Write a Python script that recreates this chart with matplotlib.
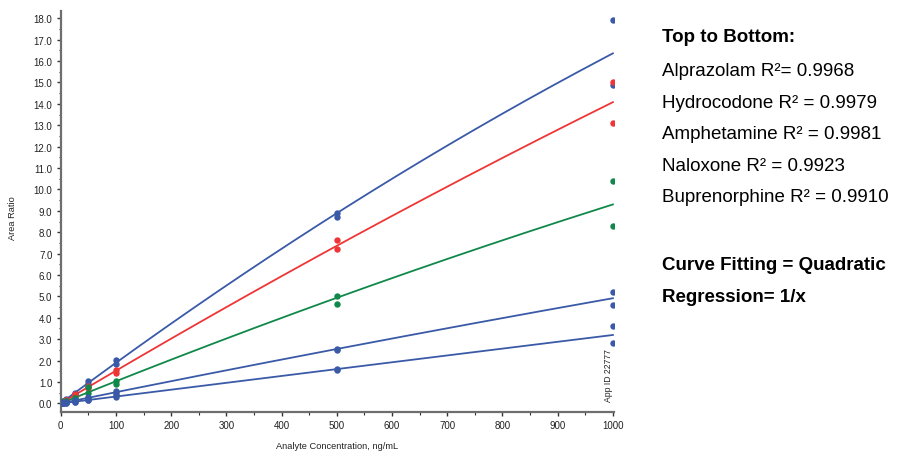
import numpy as np
import matplotlib
matplotlib.use('Agg')
import matplotlib.pyplot as plt
from matplotlib import font_manager
from matplotlib.ticker import MultipleLocator, FormatStrFormatter

# Calibration levels (ng/mL), two replicates per level
conc = [1, 1, 5, 5, 10, 10, 25, 25, 50, 50, 100, 100, 500, 500, 1000, 1000]

# Area ratios per analyte, same order as conc
alprazolam = [0.02, 0.03, 0.09, 0.11, 0.18, 0.21, 0.44, 0.50, 0.92, 1.05, 1.85, 2.02, 8.72, 8.88, 14.90, 17.90]
hydrocodone = [0.01, 0.02, 0.07, 0.08, 0.15, 0.17, 0.37, 0.42, 0.72, 0.80, 1.40, 1.58, 7.20, 7.62, 13.10, 15.02]
amphetamine = [0.01, 0.01, 0.05, 0.05, 0.09, 0.10, 0.23, 0.27, 0.50, 0.78, 0.90, 1.05, 4.66, 5.04, 8.28, 10.40]
naloxone = [0.00, 0.01, 0.025, 0.03, 0.05, 0.055, 0.12, 0.14, 0.25, 0.29, 0.48, 0.56, 2.50, 2.56, 4.62, 5.22]
buprenorphine = [0.00, 0.00, 0.015, 0.015, 0.03, 0.03, 0.07, 0.08, 0.14, 0.17, 0.30, 0.38, 1.54, 1.60, 2.82, 3.60]

series = [alprazolam, hydrocodone, amphetamine, naloxone, buprenorphine]
colors = ['#3a5aa8', '#ee3636', '#10884a', '#3a5aa8', '#3a5aa8']

legend_lines = [
    'Alprazolam R\u00b2= 0.9968',
    'Hydrocodone R\u00b2 = 0.9979',
    'Amphetamine R\u00b2 = 0.9981',
    'Naloxone R\u00b2 = 0.9923',
    'Buprenorphine R\u00b2 = 0.9910',
]

# narrow face for the axis text if the system has one
try:
    font_manager.findfont('Liberation Sans Narrow', fallback_to_default=False)
    tick_font, tick_size = 'Liberation Sans Narrow', 7.5
except ValueError:
    tick_font, tick_size = 'Liberation Sans', 7.0

fig = plt.figure(figsize=(9.01, 4.56), dpi=100)
ax = fig.add_axes([60.7 / 901, 1 - 412.7 / 456, (614 - 60.7) / 901, (412.7 - 12) / 456])

x = np.array(conc, dtype=float)
xfit = np.linspace(1, 1000, 300)
for vals, c in zip(series, colors):
    y = np.array(vals)
    # quadratic, 1/x weighted
    coef = np.polyfit(x, y, 2, w=1 / np.sqrt(x))
    ax.plot(xfit, np.polyval(coef, xfit), color=c, lw=1.3, zorder=2)
    ax.plot(x, y, 'o', color=c, ms=4.6, mec='none', zorder=3)

ax.set_xlim(0, 1002)
ax.set_ylim(-0.39, 18.34)
ax.xaxis.set_major_locator(MultipleLocator(100))
ax.xaxis.set_minor_locator(MultipleLocator(50))
ax.yaxis.set_major_locator(MultipleLocator(1))
ax.yaxis.set_minor_locator(MultipleLocator(0.5))
ax.yaxis.set_major_formatter(FormatStrFormatter('%.1f'))

for s in ['top', 'right']:
    ax.spines[s].set_visible(False)
for s in ['left', 'bottom']:
    ax.spines[s].set_color('#6e6e6e')
    ax.spines[s].set_linewidth(1.6)

ax.tick_params(which='major', direction='out', length=3, width=1, color='#333333', pad=3)
ax.tick_params(which='minor', direction='out', length=1.8, width=0.8, color='#333333')
for lab in ax.get_xticklabels() + ax.get_yticklabels():
    lab.set_family(tick_font)
    lab.set_fontsize(tick_size)
    lab.set_color('#222222')

ax.set_xlabel('Analyte Concentration, ng/mL', family=tick_font, fontsize=tick_size - 0.3,
              color='#222222', labelpad=8)
ax.set_ylabel('Area Ratio', family=tick_font, fontsize=tick_size - 0.3, color='#222222')
ax.yaxis.set_label_coords(-0.079, 0.486)

ax.text(992, 0.1, 'App ID 22777', rotation=90, ha='center', va='bottom',
        family=tick_font, fontsize=tick_size - 0.8, color='#222222')

# Legend block on the right
fx = 662 / 901
fig.text(fx, 1 - 38 / 456, 'Top to Bottom:', family='Liberation Sans', fontsize=13.5,
         fontweight='bold', va='center')
for i, t in enumerate(legend_lines):
    fig.text(fx, 1 - (71.5 + 31.6 * i) / 456, t, family='Liberation Sans', fontsize=13.5, va='center')
fig.text(fx, 1 - 266 / 456, 'Curve Fitting = Quadratic', family='Liberation Sans', fontsize=13.5,
         fontweight='bold', va='center')
fig.text(fx, 1 - 298 / 456, 'Regression= 1/x', family='Liberation Sans', fontsize=13.5,
         fontweight='bold', va='center')

fig.savefig('out.png', dpi=100)
